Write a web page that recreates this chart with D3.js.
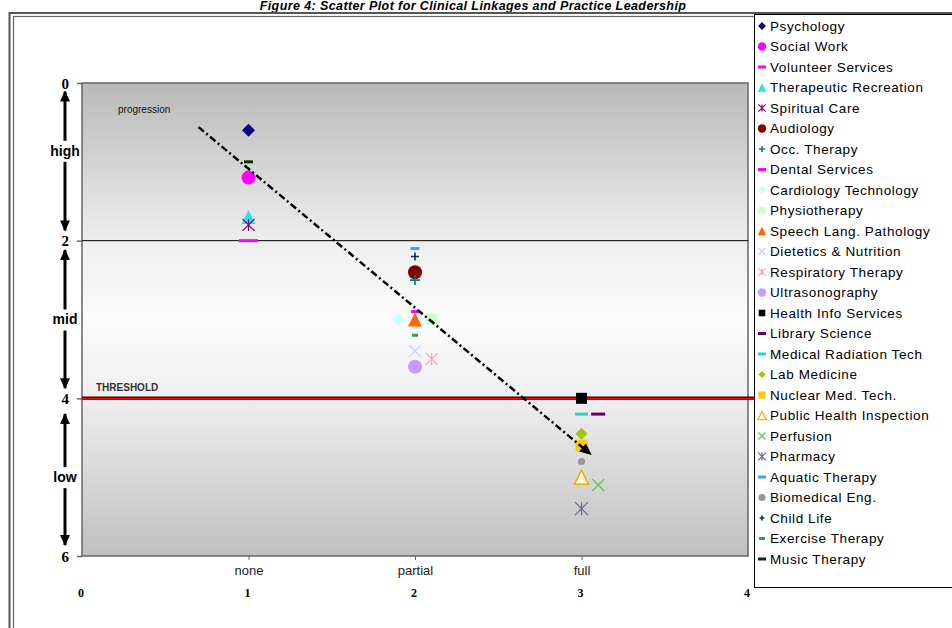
<!DOCTYPE html>
<html><head><meta charset="utf-8">
<script src="https://cdn.jsdelivr.net/npm/d3@7"></script>
<style>
html,body{margin:0;padding:0;background:#fff;}
svg{display:block;}
</style></head>
<body>
<script>
// ---------- DATA ----------
const seriesNames = ["Psychology","Social Work","Volunteer Services","Therapeutic Recreation","Spiritual Care","Audiology","Occ. Therapy","Dental Services","Cardiology Technology","Physiotherapy","Speech Lang. Pathology","Dietetics & Nutrition","Respiratory Therapy","Ultrasonography","Health Info Services","Library Science","Medical Radiation Tech","Lab Medicine","Nuclear Med. Tech.","Public Health Inspection","Perfusion","Pharmacy","Aquatic Therapy","Biomedical Eng.","Child Life","Exercise Therapy","Music Therapy"];
const xValues = [1,1,1,1,1,2,2,2,1.9,2.1,2,2,2.1,2,3,3.1,3,3,3,3,3.1,3,2,3,2,2,1];
const yValues = [0.6,1.2,2.0,1.7,1.8,2.4,2.5,2.9,3.0,3.0,3.0,3.4,3.5,3.6,4.0,4.2,4.2,4.45,4.6,5.0,5.1,5.4,2.1,4.8,2.2,3.2,1.0];
const xCategoryTicks = [1,2,3];
const xCategoryLabels = ["none","partial","full"];
const xNumTicks = [0,1,2,3,4];
const yTicks = [0,2,4,6];
const bandLabels = ["high","mid","low"];
const trendFrom = [0.7, 0.56];
const trendTo = [3.05, 4.7];
const thresholdValue = 4;
const bandDivider = 2;

// ---------- STYLES (separate from data) ----------
const markerStyles = [
  {t:"diamond", c:"#000080", s:6.5},
  {t:"circle", c:"#ff00ff", s:7},
  {t:"dash", c:"#ff00ff", s:19},
  {t:"triangle", c:"#22e6e6", s:7},
  {t:"star", c:"#800080", s:6},
  {t:"circle", c:"#800000", s:7},
  {t:"plus", c:"#008080", s:5},
  {t:"dash", c:"#ff00ff", s:8},
  {t:"diamond", c:"#ccffff", s:6.5},
  {t:"square", c:"#ccffcc", s:6},
  {t:"triangle", c:"#ff6600", s:7},
  {t:"x", c:"#ccccff", s:6},
  {t:"star", c:"#ff99cc", s:6},
  {t:"circle", c:"#cc99ff", s:7},
  {t:"square", c:"#000000", s:5.5},
  {t:"dash", c:"#660066", s:14},
  {t:"dash", c:"#33cccc", s:13},
  {t:"diamond", c:"#99cc00", s:6},
  {t:"square", c:"#ffcc00", s:6},
  {t:"otriangle", c:"#f0a800", s:7},
  {t:"x", c:"#55cc55", s:6},
  {t:"star", c:"#666699", s:6.5},
  {t:"dash", c:"#33aaee", s:9},
  {t:"circle", c:"#969696", s:3.5},
  {t:"plus", c:"#003366", s:4},
  {t:"dash", c:"#339966", s:6},
  {t:"dash", c:"#003300", s:9}
];

const W = 952, H = 628;
const svg = d3.select("body").append("svg").attr("width", W).attr("height", H)
  .style("font-family","Arial, 'Liberation Sans', sans-serif");

const x = d3.scaleLinear().domain([0,4]).range([82,748]);
const y = d3.scaleLinear().domain([0,6]).range([83,556]);

// Title at the very top
svg.append("text").attr("x", 473).attr("y", 9.5).attr("text-anchor","middle")
  .attr("font-size", 12.5).attr("letter-spacing","0.4px").attr("font-weight","bold").attr("font-style","italic")
  .text("Figure 4: Scatter Plot for Clinical Linkages and Practice Leadership");

// Outer frame (double line)
svg.append("rect").attr("x",9.5).attr("y",13).attr("width",1000).attr("height",700)
  .attr("fill","none").attr("stroke","#555").attr("stroke-width",2);
svg.append("rect").attr("x",13.5).attr("y",16.5).attr("width",1000).attr("height",700)
  .attr("fill","none").attr("stroke","#666").attr("stroke-width",1.2);

// Plot background gradient
const defs = svg.append("defs");
const grad = defs.append("linearGradient").attr("id","bg").attr("x1",0).attr("y1",0).attr("x2",0).attr("y2",1);
[[0,"#b9b9b9"],[0.33,"#eeeeee"],[0.5,"#fbfbfb"],[0.67,"#eeeeee"],[1,"#c0c0c0"]]
  .forEach(([o,c]) => grad.append("stop").attr("offset",o).attr("stop-color",c));
svg.append("rect").attr("x",x(0)).attr("y",y(0)).attr("width",x(4)-x(0)).attr("height",y(6)-y(0))
  .attr("fill","url(#bg)").attr("stroke","#666").attr("stroke-width",1.5);

// Divider at 2
svg.append("line").attr("x1",x(0)).attr("x2",x(4)).attr("y1",y(bandDivider)).attr("y2",y(bandDivider))
  .attr("stroke","#000").attr("stroke-width",1);

// Threshold line
svg.append("line").attr("x1",x(0)).attr("x2",754).attr("y1",y(thresholdValue)).attr("y2",y(thresholdValue))
  .attr("stroke","#3a0000").attr("stroke-width",3.5);
svg.append("line").attr("x1",x(0)).attr("x2",754).attr("y1",y(thresholdValue)+0.5).attr("y2",y(thresholdValue)+0.5)
  .attr("stroke","#ff0000").attr("stroke-width",2);
svg.append("text").attr("x",96).attr("y",y(thresholdValue)-7).attr("font-size",10).attr("font-weight","bold")
  .attr("fill","#333").text("THRESHOLD");

// progression label
svg.append("text").attr("x",118).attr("y",113).attr("font-size",10).attr("fill","#111").text("progression");

// Y axis ticks and labels
const yAxis = d3.axisLeft(y).tickValues(yTicks).tickSize(5).tickFormat(d3.format("d"));
const gy = svg.append("g").attr("transform",`translate(${x(0)},0)`).call(yAxis);
gy.select(".domain").remove();
gy.selectAll(".tick line").attr("stroke","#666").attr("stroke-width",1.5);
gy.selectAll(".tick text").attr("font-family","'Liberation Serif','Times New Roman',serif")
  .attr("font-weight","bold").attr("font-size",15).attr("fill","#000").attr("x",-13).attr("dy","0.35em");

// X axis small ticks and category labels
const xAxis = d3.axisBottom(x).tickValues(xCategoryTicks).tickSize(4).tickFormat((d,i)=>xCategoryLabels[i]);
const gx = svg.append("g").attr("transform",`translate(0,${y(6)})`).call(xAxis);
gx.select(".domain").remove();
gx.selectAll(".tick line").attr("stroke","#666");
gx.selectAll(".tick text").attr("font-family","Arial, 'Liberation Sans', sans-serif")
  .attr("font-size",13).attr("fill","#222").attr("y",10);

// numeric labels below
svg.append("g").selectAll("text").data(xNumTicks).join("text")
  .attr("x", d=>x(d)-1).attr("y", 597).attr("text-anchor","middle")
  .attr("font-family","'Liberation Serif','Times New Roman',serif").attr("font-weight","bold")
  .attr("font-size",12).text(d=>d);

// Band arrows with labels
defs.append("marker").attr("id","ah").attr("viewBox","0 0 10 10").attr("refX",9).attr("refY",5)
  .attr("markerWidth",12).attr("markerHeight",11).attr("markerUnits","userSpaceOnUse").attr("orient","auto")
  .append("path").attr("d","M0,0.5 L10,5 L0,9.5 Z").attr("fill","#000");
const bandTips = [[0.11,1.87,0.86],[2.12,3.87,3.0],[4.2,5.86,5.0]];
bandLabels.forEach((lab,i)=>{
  const [a,b,m] = bandTips[i];
  const ax = 65;
  svg.append("line").attr("x1",ax).attr("x2",ax).attr("y1",y(m)-10).attr("y2",y(a))
    .attr("stroke","#000").attr("stroke-width",3).attr("marker-end","url(#ah)");
  svg.append("line").attr("x1",ax).attr("x2",ax).attr("y1",y(m)+11).attr("y2",y(b))
    .attr("stroke","#000").attr("stroke-width",3).attr("marker-end","url(#ah)");
  svg.append("text").attr("x",ax).attr("y",y(m)).attr("dy","0.35em").attr("text-anchor","middle")
    .attr("font-size",14).attr("font-weight","bold").text(lab);
});

// Marker drawing
function drawMarker(g, st, scale){
  const s = st.s*scale, c = st.c;
  switch(st.t){
    case "diamond":
      g.append("path").attr("d",`M0,${-s}L${s},0L0,${s}L${-s},0Z`).attr("fill",c); break;
    case "circle":
      g.append("circle").attr("r",s).attr("fill",c); break;
    case "square":
      g.append("rect").attr("x",-s).attr("y",-s).attr("width",2*s).attr("height",2*s).attr("fill",c); break;
    case "triangle":
      g.append("path").attr("d",`M0,${-s}L${s},${s}L${-s},${s}Z`).attr("fill",c); break;
    case "otriangle":
      g.append("path").attr("d",`M0,${-s}L${s},${s}L${-s},${s}Z`).attr("fill","#fffbe0")
        .attr("stroke",c).attr("stroke-width",1.5*Math.max(scale,0.7)); break;
    case "dash":
      g.append("rect").attr("x",-s/2).attr("y",-1.5).attr("width",s).attr("height",3).attr("fill",c); break;
    case "plus":
      g.append("path").attr("d",`M${-s},0H${s}M0,${-s}V${s}`).attr("stroke",c).attr("stroke-width",1.6); break;
    case "x":
      g.append("path").attr("d",`M${-s},${-s}L${s},${s}M${-s},${s}L${s},${-s}`).attr("stroke",c).attr("stroke-width",1.3); break;
    case "star":
      g.append("path").attr("d",`M${-s},${-s}L${s},${s}M${-s},${s}L${s},${-s}M0,${-s}V${s}`).attr("stroke",c).attr("stroke-width",1.2); break;
  }
}

// Points
const pts = svg.append("g");
seriesNames.forEach((n,i)=>{
  const g = pts.append("g").attr("transform",`translate(${x(xValues[i])},${y(yValues[i])})`);
  drawMarker(g, markerStyles[i], 1);
});

// Trend arrow (dash-dot)
defs.append("marker").attr("id","th").attr("viewBox","0 0 10 10").attr("refX",8).attr("refY",5)
  .attr("markerWidth",12).attr("markerHeight",12).attr("markerUnits","userSpaceOnUse").attr("orient","auto")
  .append("path").attr("d","M0,0.5 L10,5 L0,9.5 Z").attr("fill","#000");
svg.append("line").attr("x1",x(trendFrom[0])).attr("y1",y(trendFrom[1]))
  .attr("x2",x(trendTo[0])).attr("y2",y(trendTo[1]))
  .attr("stroke","#000").attr("stroke-width",2.5).attr("stroke-dasharray","7,3,2,3")
  .attr("marker-end","url(#th)");

// Legend
const lg = svg.append("g");
lg.append("rect").attr("x",754.5).attr("y",14.5).attr("width",300).attr("height",573)
  .attr("fill","#fff").attr("stroke","#000").attr("stroke-width",1);
seriesNames.forEach((n,i)=>{
  const yy = 26 + i*20.5;
  const g = lg.append("g").attr("transform",`translate(762,${yy})`);
  const st = markerStyles[i];
  const sc = st.t==="dash" ? Math.min(1, 8/st.s) : (st.t==="circle" && st.s<5 ? 1 : 0.6);
  drawMarker(g, st, sc);
  lg.append("text").attr("x",770).attr("y",yy).attr("dy","0.36em").attr("font-size",13.5)
    .attr("letter-spacing","0.6px").attr("fill","#000").text(n);
});
</script>
</body></html>
